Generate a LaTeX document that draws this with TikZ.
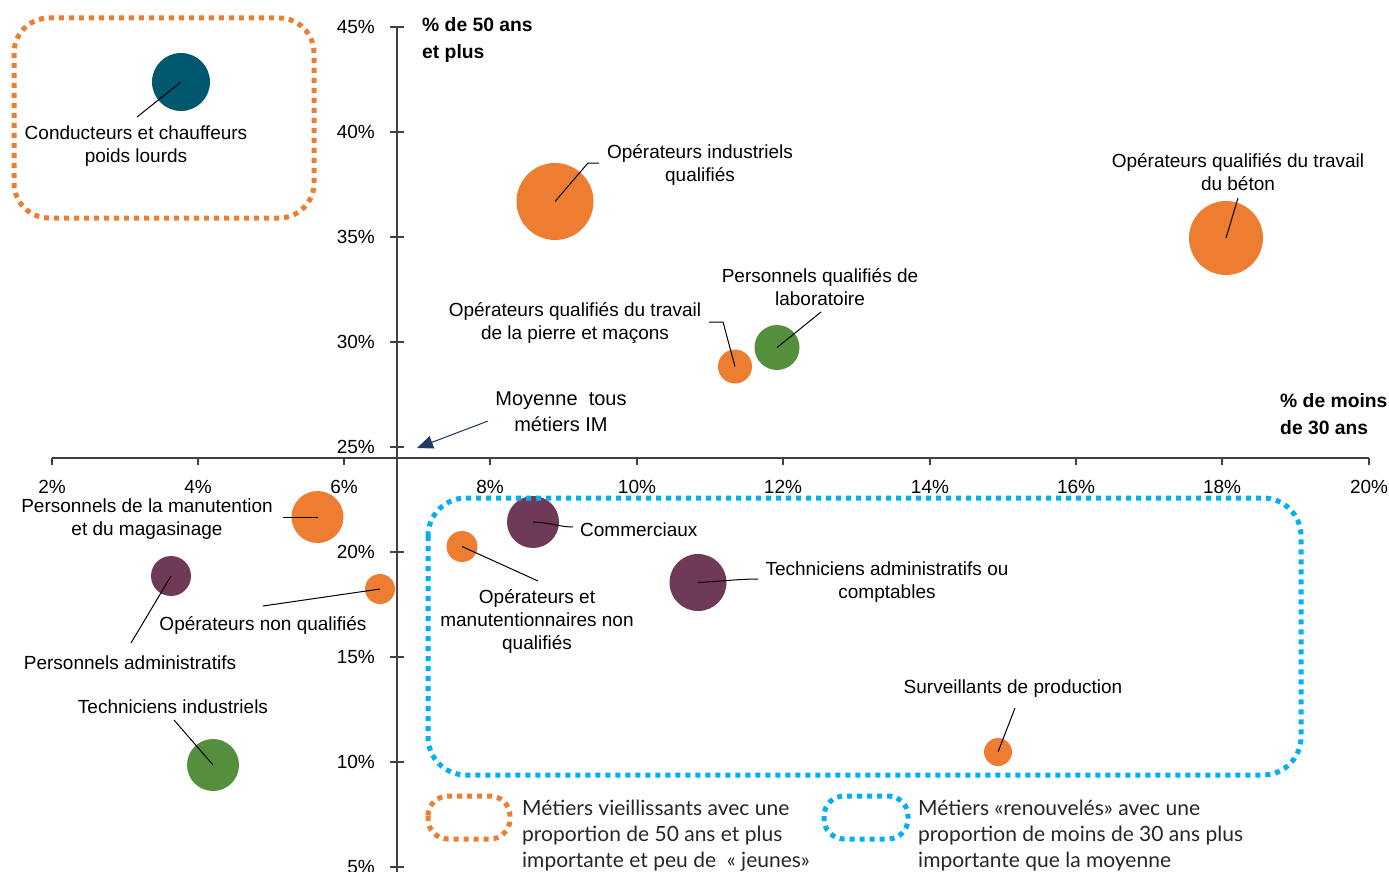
\documentclass[tikz,border=0pt]{standalone}
\usepackage{fontspec}
\setmainfont{Liberation Sans}
\newfontfamily\legfont{Lato}
\usetikzlibrary{arrows.meta}
\definecolor{orng}{HTML}{ED7D31}
\definecolor{tealb}{HTML}{00586F}
\definecolor{plum}{HTML}{6E3A57}
\definecolor{grn}{HTML}{548F3E}
\definecolor{cyanb}{HTML}{00B0F0}
\definecolor{axisgray}{HTML}{404040}
\definecolor{navyb}{HTML}{1F3864}
\begin{document}
\begin{tikzpicture}[x=1pt,y=-1pt,
  bubble/.style={circle,inner sep=0pt,draw=none,minimum size=#1},
  lbl/.style={font=\fontsize{19}{23}\selectfont,align=center,inner sep=0pt,yshift=-2.5pt},
  ticklbl/.style={font=\fontsize{19}{23}\selectfont,inner sep=0pt},
  axtitle/.style={font=\fontsize{19.3}{27}\selectfont\bfseries,align=left,inner sep=0pt,anchor=west,yshift=-2pt},
  leader/.style={draw=black,line width=1pt},
  dotbox/.style={line width=5pt,dash pattern=on 5pt off 5pt,rounded corners=#1},
  legtext/.style={font=\legfont\fontsize{21}{26}\selectfont,align=left,inner sep=0pt,anchor=west,text=black!85,yshift=-2pt},
  axisline/.style={draw=axisgray,line width=1.5pt}
]
\useasboundingbox (0,0) rectangle (1389,872);

% axes
\draw[axisline] (397,27) -- (397,872);
\foreach \p/\y in {45/27,40/132,35/237,30/342,25/447,20/552,15/657,10/762,5/867}{
  \draw[axisline] (390,\y) -- (404,\y);
  \node[ticklbl,anchor=east] (yt\p) at (375,\y) {\p\%};
}
\draw[axisline] (52,458) -- (1369,458);
\foreach \p/\x in {2/52,4/198,6/344,8/490,10/637,12/783,14/930,16/1076,18/1222,20/1369}{
  \draw[axisline] (\x,458) -- (\x,465);
  \node[ticklbl] (xt\p) at (\x,486.5) {\p\%};
}

% axis titles
\node[axtitle] (ytitle) at (422,38.5) {\% de 50 ans\\et plus};
\node[axtitle] (xtitle) at (1280,412) {\% de moins\\de 30 ans};

% bubbles
\node[bubble=58pt,fill=tealb] (cond) at (181,82) {};
\node[bubble=77pt,fill=orng] (oiq) at (555,201.5) {};
\node[bubble=74pt,fill=orng] (beton) at (1226,238) {};
\node[bubble=45pt,fill=grn] (labo) at (777,347.5) {};
\node[bubble=34pt,fill=orng] (pierre) at (735,366.5) {};
\node[bubble=52pt,fill=orng] (manut) at (317.5,517) {};
\node[bubble=40pt,fill=plum] (admin) at (171,576) {};
\node[bubble=30pt,fill=orng] (onq) at (380,589) {};
\node[bubble=52pt,fill=grn] (techind) at (213,765) {};
\node[bubble=52pt,fill=plum] (comm) at (533,522) {};
\node[bubble=31pt,fill=orng] (oemnq) at (462,546.5) {};
\node[bubble=57pt,fill=plum] (techadm) at (698,582.5) {};
\node[bubble=28pt,fill=orng] (surv) at (998,752) {};

% labels
\node[lbl] (condL) at (136,144) {Conducteurs et chauffeurs\\poids lourds};
\node[lbl] (oiqL) at (700,162) {Opérateurs industriels\\qualifiés};
\node[lbl] (betonL) at (1238,170) {Opérateurs qualifiés du travail\\du béton};
\node[lbl] (laboL) at (820,285) {Personnels qualifiés de\\laboratoire};
\node[lbl] (pierreL) at (575,321) {Opérateurs qualifiés du travail\\de la pierre et maçons};
\node[lbl] (manutL) at (147,517) {Personnels de la manutention\\et du magasinage};
\node[lbl] (adminL) at (130,660) {Personnels administratifs};
\node[lbl] (onqL) at (263,623) {Opérateurs non qualifiés};
\node[lbl] (techindL) at (173,704) {Techniciens industriels};
\node[lbl,anchor=west] (commL) at (580,527) {Commerciaux};
\node[lbl] (oemnqL) at (537,619) {Opérateurs et\\manutentionnaires non\\qualifiés};
\node[lbl] (techadmL) at (887,579.5) {Techniciens administratifs ou\\comptables};
\node[lbl] (survL) at (1013,686) {Surveillants de production};
\node[font=\fontsize{20}{26}\selectfont,align=center,inner sep=0pt,yshift=-1pt] (moy) at (561,411) {Moyenne~ tous\\métiers IM};

% leader end points
\coordinate (condE) at (137,117);
\coordinate (oiqK) at (588,163);
\coordinate (oiqE) at (599,163);
\coordinate (betonE) at (1238,198);
\coordinate (laboE) at (821,312);
\coordinate (pierreK) at (723,322);
\coordinate (pierreE) at (709,322);
\coordinate (manutE) at (283,517);
\coordinate (adminE) at (131,643);
\coordinate (onqE) at (263,606);
\coordinate (techindE) at (174,720);
\coordinate (commE) at (573,527);
\coordinate (oemnqE) at (538,581);
\coordinate (techadmE) at (758,579);
\coordinate (survE) at (1015,708);
\coordinate (moyS) at (488,421);
\coordinate (moyT) at (417,448);

% leaders
\draw[leader] (cond.center) -- (condE);
\draw[leader] (oiq.center) -- (oiqK) -- (oiqE);
\draw[leader] (beton.center) -- (betonE);
\draw[leader] (labo.center) -- (laboE);
\draw[leader] (pierre.center) -- (pierreK) -- (pierreE);
\draw[leader] (manut.center) -- (manutE);
\draw[leader] (admin.center) -- (adminE);
\draw[leader] (onq.center) -- (onqE);
\draw[leader] (techind.center) -- (techindE);
\draw[leader] (comm.center) .. controls (553,523) and (560,527) .. (commE);
\draw[leader] (oemnq.center) -- (oemnqE);
\draw[leader] (techadm.center) .. controls (725,581) and (740,579) .. (techadmE);
\draw[leader] (surv.center) -- (survE);
\draw[draw=navyb,line width=1pt,-{Triangle[length=16pt,width=13pt]},fill=navyb] (moyS) -- (moyT);

% dotted boxes
\draw[dotbox=35pt,draw=orng] (14,18) rectangle (314,218);
\draw[dotbox=38pt,draw=cyanb] (428,498) rectangle (1301,775);

% legend
\draw[dotbox=20pt,draw=orng] (428,796) rectangle (510,839);
\node[legtext] (legO) at (522,834) {Métiers vieillissants avec une\\proportion de 50 ans et plus\\importante et peu de ~« jeunes»};
\draw[dotbox=20pt,draw=cyanb] (824,796) rectangle (908,839);
\node[legtext] (legB) at (918,834) {Métiers «renouvelés» avec une\\proportion de moins de 30 ans plus\\importante que la moyenne};
\end{tikzpicture}
\end{document}
